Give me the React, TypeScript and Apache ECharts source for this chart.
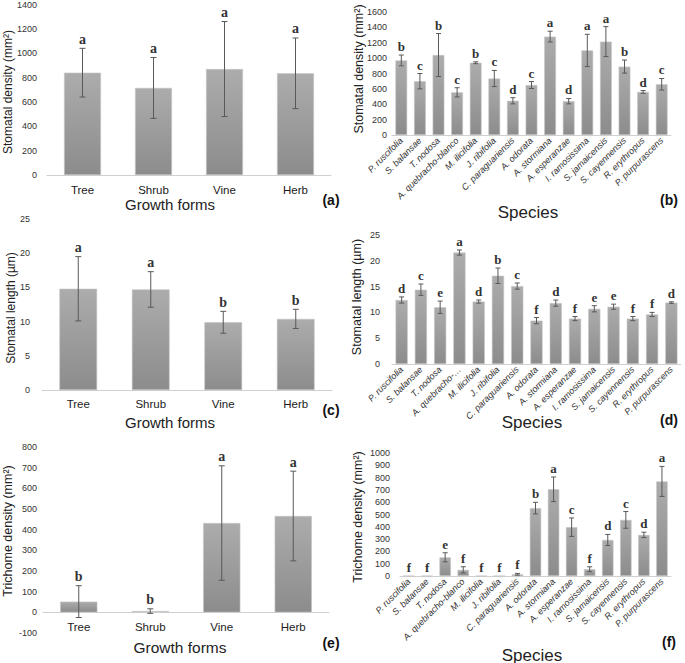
import React, { useEffect, useRef } from "react";
import * as echarts from "echarts";

// ---------- data ----------
const growthForms = ["Tree", "Shrub", "Vine", "Herb"];
const species = [
  "P. ruscifolia", "S. balansae", "T. nodosa", "A. quebracho-blanco", "M. ilicifolia",
  "J. ribifolia", "C. paraguariensis", "A. odorata", "A. stormiana", "A. esperanzae",
  "I. ramosissima", "S. jamaicensis", "S. cayennensis", "R. erythropus", "P. purpurascens",
];
const speciesShortD = [
  "P. ruscifolia", "S. balansae", "T. nodosa", "A. quebracho-…", "M. ilicifolia",
  "J. ribifolia", "C. paraguariensis", "A. odorata", "A. stormiana", "A. esperanzae",
  "I. ramosissima", "S. jamaicensis", "S. cayennensis", "R. erythropus", "P. purpurascens",
];

// (a) stomatal density by growth form
const densityFormMean = [840, 715, 870, 835];
const densityFormErr = [200, 250, 390, 290];
const densityFormLetters = ["a", "a", "a", "a"];

// (b) stomatal density by species
const densitySpMean = [970, 700, 1040, 555, 940, 735, 445, 650, 1280, 440, 1100, 1215, 890, 560, 660];
const densitySpErr = [70, 100, 280, 60, 12, 105, 40, 45, 70, 35, 210, 195, 85, 18, 75];
const densitySpLetters = ["b", "c", "b", "c", "b", "c", "d", "c", "a", "d", "a", "a", "b", "d", "c"];

// (c) stomatal length by growth form
const lengthFormMean = [14.8, 14.7, 9.9, 10.4];
const lengthFormErr = [4.7, 2.6, 1.6, 1.4];
const lengthFormLetters = ["a", "a", "b", "b"];

// (d) stomatal length by species
const lengthSpMean = [12.4, 14.4, 11.0, 21.6, 12.1, 17.1, 15.1, 8.4, 11.8, 8.8, 10.7, 11.1, 8.8, 9.6, 11.9];
const lengthSpErr = [0.6, 1.1, 1.2, 0.5, 0.3, 1.5, 0.6, 0.6, 0.6, 0.4, 0.6, 0.5, 0.4, 0.4, 0.15];
const lengthSpLetters = ["d", "c", "e", "a", "d", "b", "c", "f", "d", "f", "e", "e", "f", "f", "d"];

// (e) trichome density by growth form
const trichFormMean = [52, 6, 432, 466];
const trichFormErr = [77, 11, 277, 217];
const trichFormLetters = ["b", "b", "a", "a"];

// (f) trichome density by species
const trichSpMean = [0, 0, 152, 50, 0, 0, 14, 552, 705, 397, 55, 293, 456, 334, 769];
const trichSpErr = [0, 0, 37, 25, 0, 0, 7, 47, 100, 75, 20, 45, 68, 22, 122];
const trichSpLetters = ["f", "f", "e", "f", "f", "f", "f", "b", "a", "c", "f", "d", "c", "d", "a"];

// ---------- chart ----------
const SANS = "'Liberation Sans', Arial, sans-serif";
const SERIF = "'Liberation Serif', 'Times New Roman', serif";

const barGradient = new echarts.graphic.LinearGradient(0, 0, 0, 1, [
  { offset: 0, color: "#acacac" },
  { offset: 1, color: "#8c8c8c" },
]);

type Panel = {
  grid: { left: number; top: number; width: number; height: number };
  cats: string[];
  mean: number[];
  err: number[];
  letters: string[];
  min: number;
  max: number;
  interval: number;
  wide: boolean;
  labelMargin: number;
  xLabelMargin: number;
  barGap: string;
  cap: number;
  letterSize: number;
};

const panels: Panel[] = [
  { grid: { left: 47, top: 4, width: 284, height: 171 }, cats: growthForms, mean: densityFormMean, err: densityFormErr, letters: densityFormLetters, min: 0, max: 1400, interval: 200, wide: true, labelMargin: 10, xLabelMargin: 9, barGap: "48%", cap: 6, letterSize: 14 },
  { grid: { left: 392, top: 12, width: 279, height: 123 }, cats: species, mean: densitySpMean, err: densitySpErr, letters: densitySpLetters, min: 0, max: 1600, interval: 200, wide: false, labelMargin: 5, xLabelMargin: 4, barGap: "37%", cap: 5, letterSize: 13 },
  { grid: { left: 42, top: 219, width: 290, height: 171 }, cats: growthForms, mean: lengthFormMean, err: lengthFormErr, letters: lengthFormLetters, min: 0, max: 25, interval: 5, wide: true, labelMargin: 12, xLabelMargin: 8, barGap: "48%", cap: 6, letterSize: 14 },
  { grid: { left: 392, top: 235, width: 289, height: 129 }, cats: speciesShortD, mean: lengthSpMean, err: lengthSpErr, letters: lengthSpLetters, min: 0, max: 25, interval: 5, wide: false, labelMargin: 12, xLabelMargin: 4, barGap: "37%", cap: 5, letterSize: 13 },
  { grid: { left: 43, top: 447, width: 286, height: 186 }, cats: growthForms, mean: trichFormMean, err: trichFormErr, letters: trichFormLetters, min: -100, max: 800, interval: 100, wide: true, labelMargin: 6, xLabelMargin: -12, barGap: "48%", cap: 6, letterSize: 14 },
  { grid: { left: 400, top: 453, width: 271, height: 123 }, cats: species, mean: trichSpMean, err: trichSpErr, letters: trichSpLetters, min: 0, max: 1000, interval: 100, wide: false, labelMargin: 10, xLabelMargin: 4, barGap: "37%", cap: 5, letterSize: 13 },
];

function makeErrRender(p: Panel) {
  return (params: any, api: any) => {
    const i = params.dataIndex;
    const m = p.mean[i];
    const e = p.err[i];
    const top = api.coord([i, m + e]);
    const bot = api.coord([i, m - e]);
    const children: any[] = [];
    const stroke = "#595959";
    if (e > 0) {
      children.push({ type: "line", shape: { x1: top[0], y1: top[1], x2: bot[0], y2: bot[1] }, style: { stroke, lineWidth: 1 } });
      children.push({ type: "line", shape: { x1: top[0] - p.cap / 2, y1: top[1], x2: top[0] + p.cap / 2, y2: top[1] }, style: { stroke, lineWidth: 1 } });
      children.push({ type: "line", shape: { x1: bot[0] - p.cap / 2, y1: bot[1], x2: bot[0] + p.cap / 2, y2: bot[1] }, style: { stroke, lineWidth: 1 } });
    }
    children.push({
      type: "text",
      style: {
        text: p.letters[i],
        x: top[0],
        y: top[1] - 2,
        align: "center",
        verticalAlign: "bottom",
        fontFamily: SERIF,
        fontWeight: "bold",
        fontSize: p.letterSize,
        fill: "#333",
      },
    });
    return { type: "group", children };
  };
}

function buildOption() {
  const grid: any[] = [];
  const xAxis: any[] = [];
  const yAxis: any[] = [];
  const series: any[] = [];
  panels.forEach((p, k) => {
    grid.push({ ...p.grid, containLabel: false });
    xAxis.push({
      type: "category",
      gridIndex: k,
      data: p.cats,
      axisLine: { onZero: true, lineStyle: { color: "#d0d0d0", width: 1 } },
      axisTick: { show: false },
      axisLabel: p.wide
        ? { fontFamily: SANS, fontSize: 11.5, color: "#1a1a1a", margin: p.xLabelMargin, interval: 0 }
        : { fontFamily: SANS, fontSize: 9, fontStyle: "italic", color: "#333", rotate: 45, margin: p.xLabelMargin, interval: 0 },
    });
    yAxis.push({
      type: "value",
      gridIndex: k,
      min: p.min,
      max: p.max,
      interval: p.interval,
      axisLine: { show: false },
      axisTick: { show: false },
      splitLine: { show: false },
      axisLabel: { fontFamily: SANS, fontSize: 9, color: "#333", margin: p.labelMargin, formatter: (v: number) => String(v) },
    });
    series.push({
      type: "bar",
      xAxisIndex: k,
      yAxisIndex: k,
      data: p.mean,
      barCategoryGap: p.barGap,
      itemStyle: { color: barGradient, borderColor: "#c4c4c4", borderWidth: 0.6 },
      silent: true,
    });
    series.push({
      type: "custom",
      xAxisIndex: k,
      yAxisIndex: k,
      data: p.mean.map((m, i) => [i, m]),
      renderItem: makeErrRender(p),
      clip: false,
      z: 5,
      silent: true,
    });
  });

  const yTitle = (text: string, x: number, y: number, size: number) => ({
    type: "text",
    x,
    y,
    rotation: Math.PI / 2,
    style: { text, fontFamily: SANS, fontSize: size, fill: "#222", align: "center", verticalAlign: "middle" },
  });
  const xTitle = (text: string, x: number, y: number, size: number) => ({
    type: "text",
    x,
    y,
    style: { text, fontFamily: SANS, fontSize: size, fill: "#222", align: "center", verticalAlign: "middle" },
  });
  const tag = (text: string, x: number, y: number) => ({
    type: "text",
    x,
    y,
    style: { text, fontFamily: SANS, fontSize: 14, fontWeight: "bold", fill: "#111", align: "center", verticalAlign: "middle" },
  });

  const graphic = [
    yTitle("Stomatal density (mm²)", 8, 92, 12),
    yTitle("Stomatal density (mm²)", 359, 69, 12.5),
    yTitle("Stomatal length (µm)", 11, 308, 12),
    yTitle("Stomatal length (µm)", 357, 297, 12.5),
    yTitle("Trichome density (mm²)", 8, 531, 12.5),
    yTitle("Trichome density (mm²)", 358, 517, 12.5),
    xTitle("Growth forms", 170, 204, 15),
    xTitle("Growth forms", 170, 422, 15),
    xTitle("Growth forms", 180, 647, 15.5),
    xTitle("Species", 528, 212, 17),
    xTitle("Species", 532, 422, 17),
    xTitle("Species", 532, 655, 17),
    tag("(a)", 331, 200),
    tag("(b)", 669, 200),
    tag("(c)", 331, 410),
    tag("(d)", 669, 420),
    tag("(e)", 331, 643),
    tag("(f)", 669, 642),
  ];

  return { animation: false, backgroundColor: "#ffffff", grid, xAxis, yAxis, series, graphic };
}

export default function App() {
  const ref = useRef<HTMLDivElement>(null);
  useEffect(() => {
    document.body.style.margin = "0";
    if (!ref.current) return;
    const chart = echarts.init(ref.current, null, { renderer: "svg" });
    chart.setOption(buildOption() as any);
    return () => chart.dispose();
  }, []);
  return <div ref={ref} style={{ width: 685, height: 663 }} />;
}
